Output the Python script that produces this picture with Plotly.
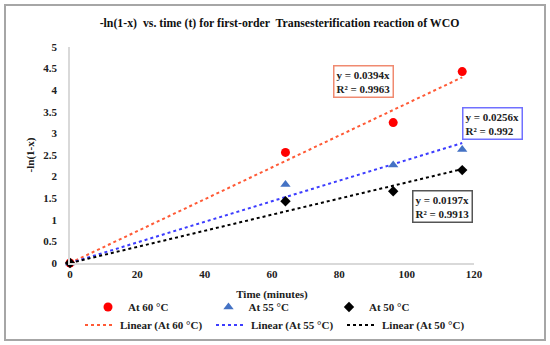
import numpy as np
import plotly.graph_objects as go

# Data
time_min = [0, 64, 96, 116.5]
y_60 = [0, 2.56, 3.25, 4.43]
y_55 = [0, 1.82, 2.27, 2.63]
y_50 = [0, 1.43, 1.66, 2.15]

series_names = ["At 60 °C", "At 55 °C", "At 50 °C"]
eq_texts = ["y = 0.0394x<br>R² = 0.9963", "y = 0.0256x<br>R² = 0.992", "y = 0.0197x<br>R² = 0.9913"]
x_ticks = [0, 20, 40, 60, 80, 100, 120]
y_ticks = [0, 0.5, 1, 1.5, 2, 2.5, 3, 3.5, 4, 4.5, 5]

FONT = "Liberation Serif"
marker_colors = ["#FF0000", "#4472C4", "#000000"]
marker_symbols = ["circle", "triangle-up", "diamond"]
marker_sizes = [9, 9, 8]
line_colors = ["#FF5A36", "#3D3DFF", "#000000"]
box_colors = ["#F08A70", "#7070FF", "#555555"]

# plot-area pixel geometry
L, R, T, B = 70, 474, 47, 263
W, H = 550, 345
def px(xp):
    return (xp - L) / (R - L)
def py(yp):
    return (B - yp) / (B - T)

fig = go.Figure()
ys = [y_60, y_55, y_50]
x = np.array(time_min, dtype=float)

for i, yv in enumerate(ys):
    yv = np.array(yv, dtype=float)
    slope = (x * yv).sum() / (x * x).sum()
    xl = np.array([0, x.max()])
    fig.add_trace(go.Scatter(x=xl, y=slope * xl, mode="lines",
                             line=dict(color=line_colors[i], dash="dot", width=2),
                             name="Linear (" + series_names[i] + ")", legend="legend2"))
for i, yv in enumerate(ys):
    fig.add_trace(go.Scatter(x=time_min, y=yv, mode="markers",
                             marker=dict(color=marker_colors[i], symbol=marker_symbols[i],
                                         size=marker_sizes[i]),
                             name=series_names[i], legend="legend", cliponaxis=False))

# annotation boxes (centres in pixels)
ann_px = [(363, 81.5), (492.5, 123.5), (442, 206.5)]
for i, t in enumerate(eq_texts):
    fig.add_annotation(x=px(ann_px[i][0]), y=py(ann_px[i][1]), xref="paper", yref="paper",
                       text=t, showarrow=False, align="left", bgcolor="white",
                       xanchor="center", yanchor="middle",
                       bordercolor=box_colors[i], borderwidth=1.5, borderpad=2,
                       font=dict(family=FONT, size=11, color="#202020", weight="bold"))

axis_font = dict(family=FONT, size=11, color="#202020", weight="bold")
fig.update_layout(
    width=W, height=H,
    margin=dict(l=L, r=W - R, t=T, b=H - B, autoexpand=False),
    paper_bgcolor="white", plot_bgcolor="white",
    title=dict(text="-ln(1-x)  vs. time (t) for first-order  Transesterification reaction of WCO",
               font=dict(family=FONT, size=11.8, color="#101010", weight="bold"),
               x=279.5 / W, xanchor="center", y=1 - 23 / H, yanchor="middle"),
    xaxis=dict(range=[0, 120], tickvals=x_ticks, showgrid=False, zeroline=False,
               showline=True, linecolor="#D9D9D9", linewidth=1.5, ticks="",
               tickfont=axis_font, automargin=True,
               title=dict(text="Time (minutes)", font=axis_font, standoff=11)),
    yaxis=dict(range=[0, 5], tickvals=y_ticks, showgrid=False, zeroline=False,
               showline=True, linecolor="#D9D9D9", linewidth=1.5, ticks="",
               tickfont=axis_font, automargin=True, ticklabelstandoff=9,
               title=dict(text="-ln(1-x)", font=axis_font, standoff=6)),
    legend=dict(orientation="h", x=px(88), xanchor="left", y=py(307), yanchor="middle",
                entrywidth=75.5, font=axis_font, bgcolor="rgba(0,0,0,0)", traceorder="normal",
                itemwidth=30),
    legend2=dict(orientation="h", x=px(80), xanchor="left", y=py(325), yanchor="middle",
                 entrywidth=86, font=axis_font, bgcolor="rgba(0,0,0,0)", traceorder="normal"),
    showlegend=True,
)

fig.add_shape(type="rect", xref="paper", yref="paper",
              x0=px(5), x1=px(545), y0=py(340), y1=py(5),
              line=dict(color="#A6A6A6", width=2), fillcolor="rgba(0,0,0,0)", layer="below")

fig.write_html("out.html", config={"displayModeBar": False},
               post_script="document.body.style.margin='0';document.body.style.padding='0';")
